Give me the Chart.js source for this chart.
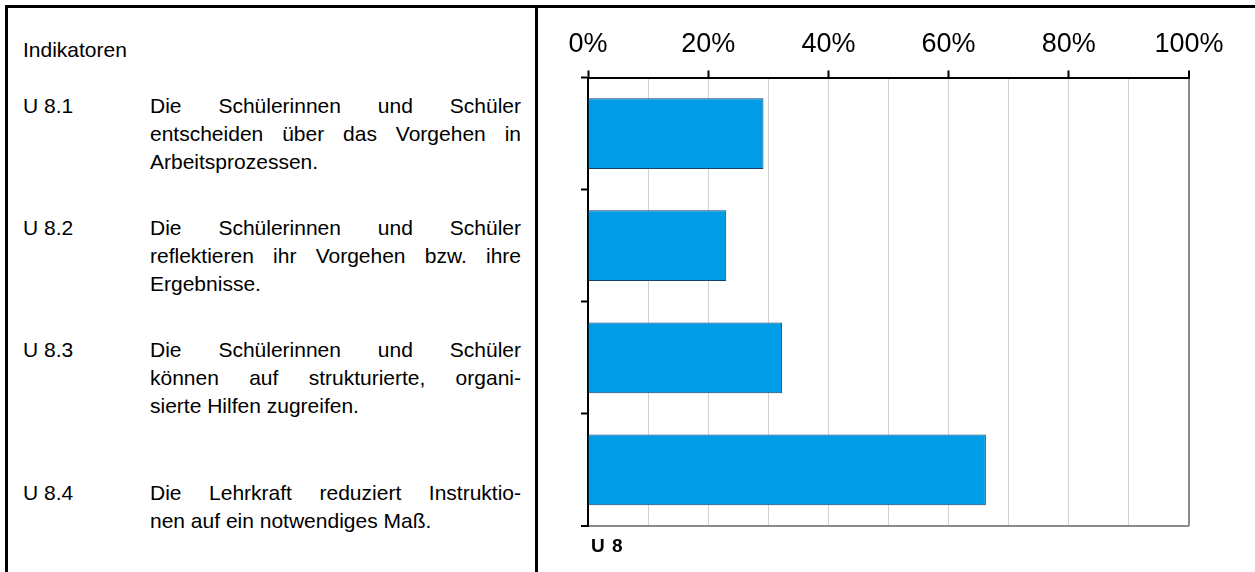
<!DOCTYPE html>
<html>
<head>
<meta charset="utf-8">
<script src="https://cdn.jsdelivr.net/npm/chart.js@4/dist/chart.umd.min.js"></script>
<style>
  html, body { margin: 0; padding: 0; background: #fff; }
  body { width: 1255px; height: 572px; position: relative; overflow: hidden;
         font-family: "Liberation Sans", Arial, sans-serif; color: #000; }
  .border-top { position: absolute; left: 5px; top: 5px; width: 1250px; height: 3px; background: #000; }
  .border-left { position: absolute; left: 5px; top: 5px; width: 3px; height: 567px; background: #000; }
  .divider { position: absolute; left: 535px; top: 5px; width: 3px; height: 567px; background: #000; }
  .txt, .code, .line { position: absolute; font-size: 21px; line-height: 28px; white-space: nowrap; }
  .code { left: 23px; }
  .line { left: 150px; width: 371px; }
  .just { text-align: justify; text-align-last: justify; white-space: normal; }
  #chartBox { position: absolute; left: 540px; top: 0; width: 715px; height: 572px; }
  .title { position: absolute; left: 591px; top: 536px; line-height: 20px; font-size: 19px; font-weight: bold;
           font-family: "Liberation Sans Narrow", "Liberation Sans", Arial, sans-serif; letter-spacing: 1px; }
</style>
</head>
<body>
<div class="border-top"></div>
<div class="border-left"></div>
<div class="divider"></div>
<div class="txt" style="left:23px; top:36px;">Indikatoren</div>
<div id="textPanel"></div>
<div id="chartBox"><canvas id="chart"></canvas></div>
<div class="title">U 8</div>

<script>
// Indikatoren (links)
const codes = ['U 8.1', 'U 8.2', 'U 8.3', 'U 8.4'];
const lines81 = ['Die Schülerinnen und Schüler', 'entscheiden über das Vorgehen in', 'Arbeitsprozessen.'];
const lines82 = ['Die Schülerinnen und Schüler', 'reflektieren ihr Vorgehen bzw. ihre', 'Ergebnisse.'];
const lines83 = ['Die Schülerinnen und Schüler', 'können auf strukturierte, organi-', 'sierte Hilfen zugreifen.'];
const lines84 = ['Die Lehrkraft reduziert Instruktio-', 'nen auf ein notwendiges Maß.'];
const firstLineTop = [92, 214, 336, 479];
const lineStep = 28;

// Werte (Anteil in %)
const categories = ['U 8.1', 'U 8.2', 'U 8.3', 'U 8.4'];
const values = [29.2, 23.0, 32.3, 66.2];
const tickLabels = ['0%', '20%', '40%', '60%', '80%', '100%'];

// Textspalte aufbauen
const panel = document.getElementById('textPanel');
const allLines = [lines81, lines82, lines83, lines84];
allLines.forEach((lines, i) => {
  const top = firstLineTop[i];
  const c = document.createElement('div');
  c.className = 'code';
  c.style.top = top + 'px';
  c.textContent = codes[i];
  panel.appendChild(c);
  lines.forEach((t, j) => {
    const d = document.createElement('div');
    // letzte Zeile linksbündig, sonst Blocksatz
    d.className = 'line' + (j < lines.length - 1 ? ' just' : '');
    d.style.top = (top + j * lineStep) + 'px';
    d.textContent = t;
    panel.appendChild(d);
  });
});

const ctx = document.getElementById('chart');
new Chart(ctx, {
  type: 'bar',
  data: {
    labels: categories,
    datasets: [{
      data: values,
      backgroundColor: '#009de6',
      borderColor: '#173f6b',
      borderWidth: 1,
      barPercentage: 0.63,
      categoryPercentage: 1
    }]
  },
  options: {
    indexAxis: 'y',
    responsive: true,
    maintainAspectRatio: false,
    animation: false,
    layout: { padding: { left: 40, right: 66, top: 0, bottom: 46 } },
    plugins: { legend: { display: false }, tooltip: { enabled: false } },
    scales: {
      x: {
        position: 'top',
        min: 0,
        max: 100,
        afterFit: (scale) => { scale.height = 77.5; },
        ticks: {
          stepSize: 10,
          autoSkip: false,
          maxRotation: 0,
          padding: 10,
          color: '#000',
          font: { family: '"Liberation Sans", Arial, sans-serif', size: 27 },
          callback: (v) => (v % 20 === 0 ? tickLabels[v / 20] : '')
        },
        grid: {
          color: (c) => (c.tick && c.tick.value === 100 ? '#8c8c8c' : (c.tick && c.tick.value === 0 ? 'rgba(0,0,0,0)' : '#d2d2d2')),
          lineWidth: (c) => (c.tick && c.tick.value === 100 ? 2 : 1),
          tickColor: (c) => (c.tick && c.tick.value % 20 === 0 ? '#000' : 'rgba(0,0,0,0)'),
          tickLength: 7,
          tickWidth: 2
        },
        border: { display: true, color: '#000', width: 2 }
      },
      y: {
        offset: true,
        afterFit: (scale) => { scale.width = 8; },
        ticks: { display: false },
        grid: {
          offset: true,
          drawOnChartArea: true,
          color: (c) => (c.type === 'scale' ? '#8c8c8c' : 'rgba(0,0,0,0)'),
          lineWidth: (c) => (c.type === 'scale' ? 2 : 1),
          tickColor: '#000',
          tickLength: 7,
          tickWidth: 2
        },
        border: { display: true, color: '#000', width: 2 }
      }
    }
  }
});
</script>
</body>
</html>
